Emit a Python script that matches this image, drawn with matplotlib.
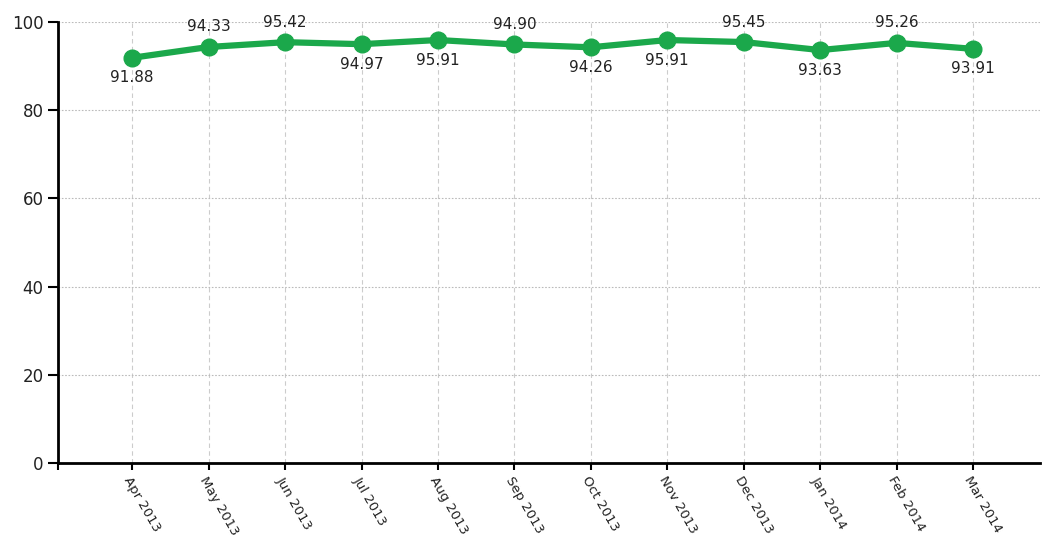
import matplotlib
matplotlib.use('Agg')
import matplotlib.pyplot as plt

months = ['Apr 2013', 'May 2013', 'Jun 2013', 'Jul 2013', 'Aug 2013', 'Sep 2013',
          'Oct 2013', 'Nov 2013', 'Dec 2013', 'Jan 2014', 'Feb 2014', 'Mar 2014']
values = [91.88, 94.33, 95.42, 94.97, 95.91, 94.90, 94.26, 95.91, 95.45, 93.63, 95.26, 93.91]
label_above = [False, True, True, False, False, True, False, False, True, False, True, False]

GREEN = '#1ba84b'

plt.rcParams['font.family'] = ['DejaVu Sans']

fig = plt.figure(figsize=(10.42, 5.36), dpi=100, facecolor='white')
ax = fig.add_axes([0.0557, 0.136, 0.942, 0.823])

x = list(range(len(months)))
ax.plot(x, values, color=GREEN, linewidth=4.5, marker='o', markersize=12, zorder=3,
        solid_capstyle='round')

for i, (v, up) in enumerate(zip(values, label_above)):
    if up:
        ax.annotate(f'{v:.2f}', (i, v), xytext=(0, 9), textcoords='offset points',
                    ha='center', va='bottom', fontsize=11, color='#222222')
    else:
        ax.annotate(f'{v:.2f}', (i, v), xytext=(0, -9), textcoords='offset points',
                    ha='center', va='top', fontsize=11, color='#222222')

xmin = -0.97
ax.set_xlim(xmin, 11.87)
ax.set_ylim(0, 100)
ax.set_yticks([0, 20, 40, 60, 80, 100])
ax.set_xticks(x)
ax.set_xticks([xmin], minor=True)
ax.set_xticklabels(months, rotation=-60, ha='left', va='top', rotation_mode='anchor',
                   fontsize=9.5, color='#222222')
ax.tick_params(axis='y', labelsize=12, length=7, width=1.5, colors='black', labelcolor='#222222')
ax.tick_params(axis='x', which='both', length=5, width=1.5, pad=3)

ax.xaxis.grid(True, linestyle=(0, (4, 3)), color='#cccccc', linewidth=0.8)
ax.yaxis.grid(True, linestyle=(0, (1.5, 1.5)), color='#bbbbbb', linewidth=0.8)
ax.set_axisbelow(True)

for s in ['top', 'right']:
    ax.spines[s].set_visible(False)
for s in ['left', 'bottom']:
    ax.spines[s].set_linewidth(2)
    ax.spines[s].set_color('black')

fig.savefig('out.png', dpi=100, facecolor='white')
